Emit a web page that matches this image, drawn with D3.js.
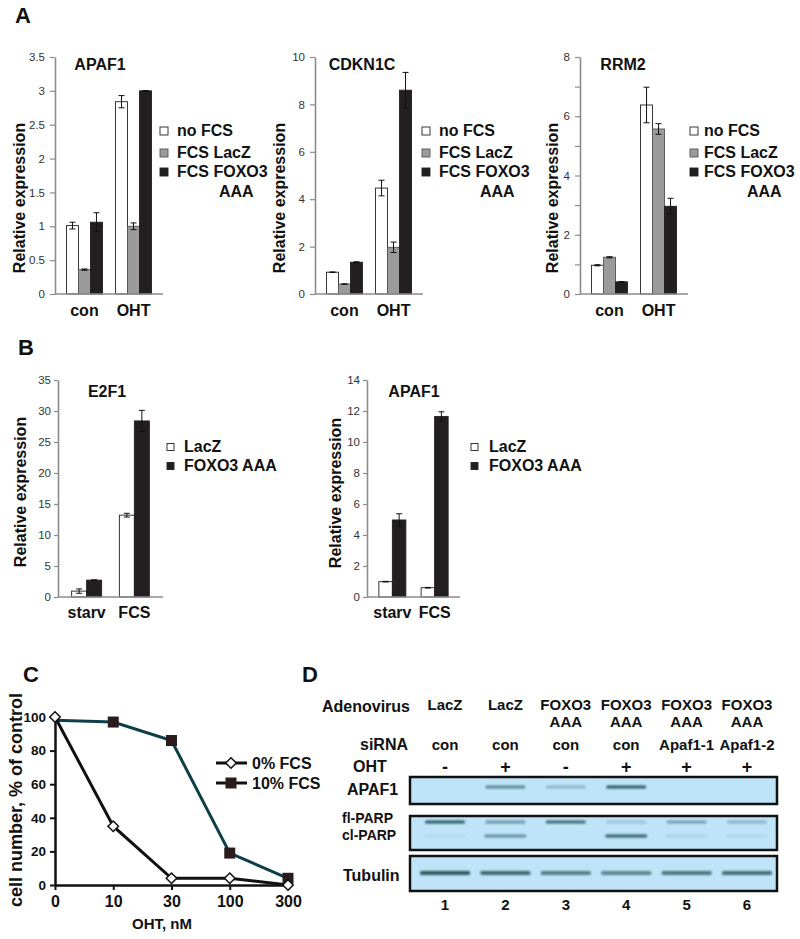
<!DOCTYPE html>
<html><head><meta charset="utf-8">
<script src="https://cdn.jsdelivr.net/npm/d3@7"></script>
<style>body{margin:0;background:#fff}svg{display:block}</style>
</head><body>
<svg id="fig" width="800" height="939"></svg>
<script>
// ---------------- DATA ----------------
const groupsA = ["con", "OHT"];
const seriesA = ["no FCS", "FCS LacZ", "FCS FOXO3"];
const apaf1A = [[1.01, 0.36, 1.06], [2.84, 1.0, 3.0]];
const apaf1AErr = [[0.05, 0.01, 0.14], [0.09, 0.05, 0.005]];
const cdkn1c = [[0.92, 0.42, 1.34], [4.47, 1.97, 8.6]];
const cdkn1cErr = [[0.01, 0.01, 0.02], [0.33, 0.22, 0.75]];
const rrm2 = [[0.97, 1.24, 0.41], [6.38, 5.57, 2.96]];
const rrm2Err = [[0.02, 0.02, 0.01], [0.6, 0.18, 0.27]];
const ticksApaf1A = [0, 0.5, 1, 1.5, 2, 2.5, 3, 3.5];
const tickLabelsApaf1A = ["0", "0.5", "1", "1.5", "2", "2.5", "3", "3.5"];
const ticksCdkn1c = [0, 2, 4, 6, 8, 10];
const tickLabelsCdkn1c = ["0", "2", "4", "6", "8", "10"];
const ticksRrm2 = [0, 1, 2, 3, 4, 5, 6, 7, 8];
const tickLabelsRrm2 = ["0", "", "2", "", "4", "", "6", "", "8"];

const groupsB = ["starv", "FCS"];
const seriesB = ["LacZ", "FOXO3 AAA"];
const e2f1 = [[0.95, 2.72], [13.2, 28.4]];
const e2f1Err = [[0.35, 0.05], [0.3, 1.7]];
const apaf1B = [[0.99, 4.97], [0.6, 11.65]];
const apaf1BErr = [[0.02, 0.4], [0.02, 0.3]];
const ticksE2f1 = [0, 5, 10, 15, 20, 25, 30, 35];
const tickLabelsE2f1 = ["0", "5", "10", "15", "20", "25", "30", "35"];
const ticksApaf1B = [0, 2, 4, 6, 8, 10, 12, 14];
const tickLabelsApaf1B = ["0", "2", "4", "6", "8", "10", "12", "14"];

const ohtDoses = ["0", "10", "30", "100", "300"];
const fcs0 = [100, 35, 4, 4, 0];
const fcs10 = [98, 97, 86, 19, 4];
const fcs10Marker = [false, true, true, true, true];
const ticksC = [0, 20, 40, 60, 80, 100];

const lanes = ["1", "2", "3", "4", "5", "6"];
const adenovirusL1 = ["LacZ", "LacZ", "FOXO3", "FOXO3", "FOXO3", "FOXO3"];
const adenovirusL2 = ["", "", "AAA", "AAA", "AAA", "AAA"];
const siRNA = ["con", "con", "con", "con", "Apaf1-1", "Apaf1-2"];
const ohtSign = ["-", "+", "-", "+", "+", "+"];
const bandApaf1 = [0, 0.6, 0.3, 0.9, 0, 0];
const bandFlParp = [0.9, 0.5, 0.8, 0.2, 0.45, 0.3];
const bandClParp = [0.06, 0.55, 0, 0.85, 0.1, 0.08];
const bandTubulin = [0.9, 0.8, 0.65, 0.6, 0.7, 0.75];

// ---------------- DRAW ----------------
const FONT = "'Liberation Sans', Arial, Helvetica, sans-serif";
const svg = d3.select("#fig").style("font-family", FONT);

function txt(x, y, s, size, opts = {}) {
  const t = svg.append("text").attr("x", x).attr("y", y).text(s)
    .attr("font-size", size).attr("font-weight", opts.weight || "bold")
    .attr("fill", opts.fill || "#111").attr("text-anchor", opts.anchor || "start");
  return t;
}

function barPanel(o) {
  const g = svg.append("g");
  const y = d3.scaleLinear().domain([0, o.yMax]).range([o.yBot, o.yTop]);
  const x = d3.scalePoint().domain(o.groups).range([o.x0, o.x1]).padding(0.6);
  const n = o.series.length;
  const xs = d3.scaleBand().domain(o.series).range([-o.bw * n / 2, o.bw * n / 2]);

  const ax = d3.axisLeft(y).tickValues(o.ticks).tickSize(o.tickSize).tickSizeOuter(0)
    .tickPadding(o.tickPad).tickFormat((d, i) => o.tickLabels[i]);
  const axg = g.append("g").attr("transform", `translate(${o.x0},0)`).call(ax);
  axg.select(".domain").attr("stroke", "#8c8c8c").attr("stroke-width", 1.6);
  axg.selectAll(".tick line").attr("stroke", "#8c8c8c").attr("stroke-width", 1.2);
  axg.selectAll(".tick text").attr("font-family", FONT).attr("font-size", 11.5).attr("fill", "#333");

  const bars = [];
  o.groups.forEach((gr, gi) => o.series.forEach((s, si) => bars.push({
    gr, s, si, v: o.data[gi][si], e: o.err[gi][si]
  })));
  g.selectAll("rect.bar").data(bars).join("rect").attr("class", "bar")
    .attr("x", d => x(d.gr) + xs(d.s)).attr("width", xs.bandwidth())
    .attr("y", d => y(d.v)).attr("height", d => o.yBot - y(d.v))
    .attr("fill", d => o.colors[d.si]).attr("stroke", d => o.strokes[d.si]).attr("stroke-width", 0.9);

  const eb = g.selectAll("g.err").data(bars).join("g").attr("class", "err");
  const cx = d => x(d.gr) + xs(d.s) + xs.bandwidth() / 2;
  eb.append("line").attr("x1", cx).attr("x2", cx)
    .attr("y1", d => y(d.v - d.e)).attr("y2", d => y(d.v + d.e));
  eb.append("line").attr("x1", d => cx(d) - 3).attr("x2", d => cx(d) + 3)
    .attr("y1", d => y(d.v + d.e)).attr("y2", d => y(d.v + d.e));
  eb.append("line").attr("x1", d => cx(d) - 3).attr("x2", d => cx(d) + 3)
    .attr("y1", d => y(d.v - d.e)).attr("y2", d => y(d.v - d.e));
  eb.selectAll("line").attr("stroke", "#111").attr("stroke-width", 1);

  g.append("line").attr("x1", o.x0).attr("x2", o.x1).attr("y1", o.yBot).attr("y2", o.yBot)
    .attr("stroke", "#8c8c8c").attr("stroke-width", 1.6);

  o.groups.forEach(gr => txt(x(gr), o.catY, gr, 16, { anchor: "middle" }));
  txt(o.titleX, o.titleY, o.title, 16, { anchor: "middle" });
  txt(0, 0, "Relative expression", 16, { anchor: "middle" })
    .attr("transform", `translate(${o.ylabX},${o.ylabY}) rotate(-90)`);

  o.series.forEach((s, si) => {
    const ly = o.legY[si];
    g.append("rect").attr("x", o.legSqX).attr("y", ly - 5 - o.sq / 2).attr("width", o.sq).attr("height", o.sq)
      .attr("fill", o.colors[si]).attr("stroke", o.strokes[si]).attr("stroke-width", 0.9);
    txt(o.legTxtX, ly, s, 16);
  });
  if (o.extra) txt(o.extra.x, o.extra.y, o.extra.s, 16);
}

const colA = ["#ffffff", "#9b9b9b", "#231f20"];
const strA = ["#222", "#555", "#231f20"];
const colB = ["#ffffff", "#231f20"];
const strB = ["#222", "#231f20"];

const baseA = { groups: groupsA, series: seriesA, yTop: 57, yBot: 294, bw: 12, tickSize: 5, tickPad: 5,
  colors: colA, strokes: strA, catY: 316, titleY: 70, ylabY: 198, legY: [136, 158, 177], sq: 8 };
barPanel({ ...baseA, x0: 55, x1: 163, yMax: 3.5, ticks: ticksApaf1A, tickLabels: tickLabelsApaf1A,
  data: apaf1A, err: apaf1AErr, title: "APAF1", titleX: 100, ylabX: 25,
  legSqX: 160, legTxtX: 177, extra: { x: 219, y: 197, s: "AAA" } });
barPanel({ ...baseA, x0: 315, x1: 423, yMax: 10, ticks: ticksCdkn1c, tickLabels: tickLabelsCdkn1c,
  data: cdkn1c, err: cdkn1cErr, title: "CDKN1C", titleX: 362, ylabX: 285,
  legSqX: 422, legTxtX: 439, extra: { x: 480, y: 197, s: "AAA" } });
barPanel({ ...baseA, x0: 580, x1: 688, yMax: 8, ticks: ticksRrm2, tickLabels: tickLabelsRrm2,
  data: rrm2, err: rrm2Err, title: "RRM2", titleX: 623, ylabX: 558,
  legSqX: 690, legTxtX: 704, extra: { x: 747, y: 197, s: "AAA" } });

const baseB = { groups: groupsB, series: seriesB, yTop: 380, yBot: 597, tickSize: 4, tickPad: 3,
  colors: colB, strokes: strB, catY: 618, titleY: 397, legY: [452, 471], sq: 7 };
barPanel({ ...baseB, x0: 58, x1: 163, yMax: 35, bw: 15, ticks: ticksE2f1, tickLabels: tickLabelsE2f1,
  data: e2f1, err: e2f1Err, title: "E2F1", titleX: 107, ylabX: 26, ylabY: 492,
  legSqX: 167, legTxtX: 184 });
barPanel({ ...baseB, x0: 367, x1: 460, yMax: 14, bw: 13.5, ticks: ticksApaf1B, tickLabels: tickLabelsApaf1B,
  data: apaf1B, err: apaf1BErr, title: "APAF1", titleX: 414, ylabX: 341, ylabY: 493,
  legSqX: 471, legTxtX: 489 });

txt(15, 23, "A", 22);
txt(18, 355, "B", 22);
txt(23, 682, "C", 22);
txt(302, 682, "D", 22);

// ---------------- Panel C ----------------
(function () {
  const g = svg.append("g");
  const x = d3.scalePoint().domain(ohtDoses).range([55, 288]);
  const y = d3.scaleLinear().domain([0, 100]).range([885, 717]);
  const ay = g.append("g").attr("transform", "translate(55,0)")
    .call(d3.axisLeft(y).tickValues(ticksC).tickSize(5).tickSizeOuter(0).tickPadding(4));
  const axx = g.append("g").attr("transform", "translate(0,885)")
    .call(d3.axisBottom(x).tickSize(5).tickSizeOuter(0).tickPadding(6));
  [ay, axx].forEach(a => {
    a.select(".domain").attr("stroke", "#111").attr("stroke-width", 2.5);
    a.selectAll(".tick line").attr("stroke", "#111").attr("stroke-width", 2);
    a.selectAll(".tick text").attr("font-family", FONT).attr("font-weight", "bold").attr("fill", "#111");
  });
  ay.selectAll(".tick text").attr("font-size", 13.5);
  axx.selectAll(".tick text").attr("font-size", 16);
  const line = d3.line().x((d, i) => x(ohtDoses[i])).y(d => y(d));
  g.append("path").datum(fcs10).attr("d", line).attr("fill", "none")
    .attr("stroke", "#0e3e48").attr("stroke-width", 3);
  g.append("path").datum(fcs0).attr("d", line).attr("fill", "none")
    .attr("stroke", "#111").attr("stroke-width", 3);
  const sq = 11;
  g.selectAll("rect.m10").data(fcs10.map((v, i) => ({ v, i })).filter(d => fcs10Marker[d.i]))
    .join("rect").attr("class", "m10")
    .attr("x", d => x(ohtDoses[d.i]) - sq / 2).attr("y", d => y(d.v) - sq / 2)
    .attr("width", sq).attr("height", sq).attr("fill", "#2a1c1c");
  const diamond = d3.symbol().type(d3.symbolDiamond2).size(70);
  g.selectAll("path.m0").data(fcs0).join("path").attr("class", "m0")
    .attr("d", diamond).attr("transform", (d, i) => `translate(${x(ohtDoses[i])},${y(d)})`)
    .attr("fill", "#fff").attr("stroke", "#111").attr("stroke-width", 1.5);
  g.append("line").attr("x1", 216).attr("x2", 247).attr("y1", 763).attr("y2", 763)
    .attr("stroke", "#111").attr("stroke-width", 3);
  g.append("path").attr("d", diamond).attr("transform", "translate(231,763)")
    .attr("fill", "#fff").attr("stroke", "#111").attr("stroke-width", 1.5);
  txt(252, 769, "0% FCS", 16);
  g.append("line").attr("x1", 216).attr("x2", 247).attr("y1", 783).attr("y2", 783)
    .attr("stroke", "#111").attr("stroke-width", 3);
  g.append("rect").attr("x", 231 - sq / 2).attr("y", 783 - sq / 2).attr("width", sq).attr("height", sq)
    .attr("fill", "#2a1c1c");
  txt(252, 789, "10% FCS", 16);
  txt(162, 929, "OHT, nM", 15, { anchor: "middle" });
  txt(0, 0, "cell number, % of control", 18, { anchor: "middle" })
    .attr("transform", "translate(22,800) rotate(-90)");
})();

// ---------------- Panel D ----------------
(function () {
  const g = svg.append("g");
  const x = d3.scalePoint().domain(lanes).range([445, 747]);
  const defs = svg.append("defs");
  defs.append("filter").attr("id", "blur").attr("x", "-20%").attr("y", "-200%")
    .attr("width", "140%").attr("height", "500%")
    .append("feGaussianBlur").attr("stdDeviation", "1.3 0.8");

  txt(322, 712, "Adenovirus", 16);
  txt(360, 750, "siRNA", 16);
  txt(353, 772, "OHT", 16);
  txt(347, 795, "APAF1", 16);
  txt(342, 823, "fl-PARP", 14);
  txt(342, 840, "cl-PARP", 14);
  txt(343, 881, "Tubulin", 16);

  lanes.forEach((l, i) => {
    const cx = x(l);
    txt(cx, 710, adenovirusL1[i], 15, { anchor: "middle" });
    if (adenovirusL2[i]) txt(cx, 727, adenovirusL2[i], 15, { anchor: "middle" });
    txt(cx, 750, siRNA[i], 15, { anchor: "middle" });
    txt(cx, 773, ohtSign[i], 18, { anchor: "middle" });
    txt(cx, 910, l, 15, { anchor: "middle" });
  });

  const boxes = [
    { y0: 777, y1: 804, bands: [{ d: bandApaf1, y: 787, w: 40, h: 3 }] },
    { y0: 816, y1: 850, bands: [{ d: bandFlParp, y: 822, w: 40, h: 3 }, { d: bandClParp, y: 836, w: 42, h: 3 }] },
    { y0: 856, y1: 891, bands: [{ d: bandTubulin, y: 873, w: 50, h: 4 }] }
  ];
  boxes.forEach(b => {
    g.append("rect").attr("x", 410).attr("y", b.y0).attr("width", 367).attr("height", b.y1 - b.y0)
      .attr("fill", "#bfe3f7").attr("stroke", "#111").attr("stroke-width", 2.5);
    b.bands.forEach(band => {
      g.selectAll(null).data(band.d.map((v, i) => ({ v, i })).filter(d => d.v > 0)).join("rect")
        .attr("x", d => x(lanes[d.i]) - band.w / 2).attr("y", band.y - band.h / 2)
        .attr("width", band.w).attr("height", band.h).attr("rx", 1.5)
        .attr("fill", "#1d4a4e").attr("opacity", d => d.v).attr("filter", "url(#blur)");
    });
  });
})();
</script>
</body></html>
